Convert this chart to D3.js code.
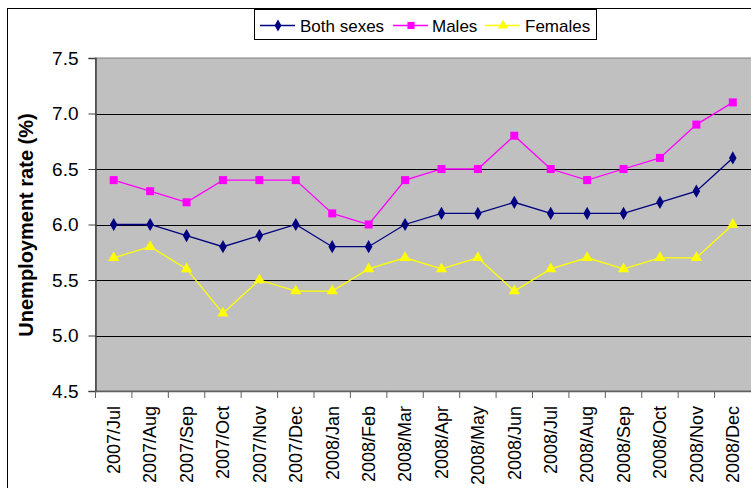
<!DOCTYPE html>
<html><head><meta charset="utf-8">
<script src="https://cdn.jsdelivr.net/npm/d3@7"></script>
<style>body{margin:0;background:#fff;}svg{display:block;font-family:"Liberation Sans",Arial,sans-serif;}</style>
</head><body>
<svg id="c" width="751" height="488"></svg>
<script>
const categories = ["2007/Jul","2007/Aug","2007/Sep","2007/Oct","2007/Nov","2007/Dec","2008/Jan","2008/Feb","2008/Mar","2008/Apr","2008/May","2008/Jun","2008/Jul","2008/Aug","2008/Sep","2008/Oct","2008/Nov","2008/Dec"];
const bothSexes = [6.0,6.0,5.9,5.8,5.9,6.0,5.8,5.8,6.0,6.1,6.1,6.2,6.1,6.1,6.1,6.2,6.3,6.6];
const males = [6.4,6.3,6.2,6.4,6.4,6.4,6.1,6.0,6.4,6.5,6.5,6.8,6.5,6.4,6.5,6.6,6.9,7.1];
const females = [5.7,5.8,5.6,5.2,5.5,5.4,5.4,5.6,5.7,5.6,5.7,5.4,5.6,5.7,5.6,5.7,5.7,6.0];
const yTicks = [4.5,5.0,5.5,6.0,6.5,7.0,7.5];
const seriesNames = ["Both sexes","Males","Females"];

const series = [
  {name: seriesNames[0], values: bothSexes, color: "#000080", symbol: d3.symbolDiamond, size: 50},
  {name: seriesNames[1], values: males, color: "#FF00FF", symbol: d3.symbolSquare, size: 64},
  {name: seriesNames[2], values: females, color: "#FFFF00", symbol: d3.symbolTriangle, size: 55}
];

const svg = d3.select("#c");
const L = 95.5, R = 751, T = 58, B = 391;

// outer border
svg.append("rect").attr("x",7.5).attr("y",8.5).attr("width",760).attr("height",500)
  .attr("fill","#fff").attr("stroke","#000").attr("stroke-width",1);

const x = d3.scaleBand().domain(categories).range([L, R]);
const y = d3.scaleLinear().domain([4.5, 7.5]).range([B, T]);

// plot area
svg.append("rect").attr("x",L).attr("y",T).attr("width",R-L+5).attr("height",B-T)
  .attr("fill","#C0C0C0").attr("stroke","#808080").attr("stroke-width",1);

// gridlines
svg.append("g").selectAll("line").data(yTicks.slice(1,-1)).join("line")
  .attr("x1",L).attr("x2",R+5).attr("y1",d=>Math.round(y(d))+0.5).attr("y2",d=>Math.round(y(d))+0.5)
  .attr("stroke","#000").attr("stroke-width",1);

// y axis
const yAxis = svg.append("g").attr("transform",`translate(${L},0)`)
  .call(d3.axisLeft(y).tickValues(yTicks).tickFormat(d3.format(".1f")).tickSize(7).tickPadding(10));
yAxis.select(".domain").attr("stroke","#404040").attr("stroke-width",1.5);
yAxis.selectAll(".tick line").attr("stroke","#404040");
yAxis.selectAll(".tick text").attr("font-size",19).attr("fill","#000").attr("font-family","Liberation Sans, Arial, sans-serif");

// x axis
const xAxis = svg.append("g").attr("transform",`translate(0,${B})`)
  .call(d3.axisBottom(x).tickSize(0).tickPadding(0));
xAxis.select(".domain").attr("stroke","#606060").attr("stroke-width",1.5);
xAxis.selectAll(".tick text")
  .attr("font-size",18).attr("fill","#000").attr("font-family","Liberation Sans, Arial, sans-serif")
  .attr("text-anchor","end").attr("dy","0.35em")
  .attr("transform","translate(0,15) rotate(-90)");
// category boundary ticks
svg.append("g").selectAll("line").data(categories).join("line")
  .attr("x1",d=>x(d)).attr("x2",d=>x(d)).attr("y1",B).attr("y2",B+7)
  .attr("stroke","#606060").attr("stroke-width",1);

// lines and markers
const line = d3.line().x((d,i)=>x(categories[i])+x.bandwidth()/2).y(d=>y(d));
series.forEach(s=>{
  svg.append("path").datum(s.values).attr("d",line).attr("fill","none")
    .attr("stroke",s.color).attr("stroke-width",1.3);
  svg.append("g").selectAll("path").data(s.values).join("path")
    .attr("d",d3.symbol().type(s.symbol).size(s.size))
    .attr("transform",(d,i)=>`translate(${x(categories[i])+x.bandwidth()/2},${y(d)})`)
    .attr("fill",s.color);
});

// y title
svg.append("text").attr("transform","translate(33,225) rotate(-90)")
  .attr("text-anchor","middle").attr("font-size",20).attr("font-weight","bold")
  .text("Unemployment rate (%)");

// legend
const lg = svg.append("g");
lg.append("rect").attr("x",254.5).attr("y",9.5).attr("width",342).attr("height",30)
  .attr("fill","#fff").attr("stroke","#000").attr("stroke-width",1);
const legPos = [{lx:260, tx:300},{lx:393, tx:432},{lx:485, tx:525}];
series.forEach((s,i)=>{
  const p = legPos[i];
  lg.append("line").attr("x1",p.lx).attr("x2",p.lx+35).attr("y1",25.5).attr("y2",25.5)
    .attr("stroke",s.color).attr("stroke-width",1.3);
  lg.append("path").attr("d",d3.symbol().type(s.symbol).size(s.size*0.8))
    .attr("transform",`translate(${p.lx+18},25.5)`).attr("fill",s.color);
  lg.append("text").attr("x",p.tx).attr("y",31.5).attr("font-size",17).text(s.name);
});
</script>
</body></html>
